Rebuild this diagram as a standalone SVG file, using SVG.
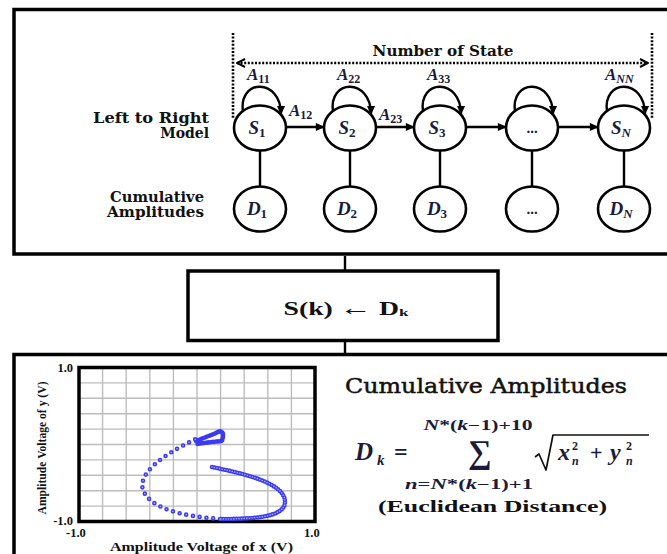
<svg xmlns="http://www.w3.org/2000/svg" width="667" height="554" viewBox="0 0 667 554">
<defs>
<style>
.frame{fill:none;stroke:#000;stroke-width:3.5}
.node{fill:#fff;stroke:#000;stroke-width:2.6}
.lbl{font-family:"DejaVu Serif","Liberation Serif",serif;font-weight:bold;fill:#111}
.var{font-family:"Liberation Serif","DejaVu Serif",serif;font-weight:bold;font-style:italic;fill:#1a1a3a}
.up{font-style:normal}
.conn{fill:none;stroke:#000;stroke-width:2.4}
.dotted{fill:none;stroke:#000;stroke-width:2.6;stroke-dasharray:2 1.6}
.grid{fill:none;stroke:#bdbdbd;stroke-width:1.4}
.tick{font-family:"Liberation Serif",serif;font-weight:bold;fill:#111}
.ptsO{fill:none;stroke:#3a3af5;stroke-width:4.6;stroke-linecap:round}
.ptsI{fill:none;stroke:#b4b4ff;stroke-width:1.6;stroke-linecap:round}
</style>
<marker id="ah" markerUnits="userSpaceOnUse" viewBox="0 0 10 10" refX="9" refY="5" markerWidth="10" markerHeight="9" orient="auto"><path d="M0,0.5 L10,5 L0,9.5 z" fill="#000"/></marker>
<marker id="open" markerUnits="userSpaceOnUse" viewBox="0 0 10 10" refX="9" refY="5" markerWidth="10" markerHeight="10" orient="auto-start-reverse"><path d="M1,1 L9,5 L1,9" fill="none" stroke="#000" stroke-width="2"/></marker>
</defs>
<rect width="667" height="554" fill="#fff"/>

<g id="frames">
<rect id="top-panel" class="frame" x="14" y="9.5" width="680" height="244.5"/>
<rect id="bottom-panel" class="frame" x="14" y="354.5" width="680" height="220"/>
</g>

<g id="connectors">
<line class="conn" x1="345" y1="256" x2="345" y2="270" stroke-width="3"/>
<line class="conn" x1="345" y1="341" x2="345" y2="353" stroke-width="3"/>
<line class="dotted" x1="233" y1="33" x2="233" y2="118"/>
<line class="dotted" x1="652" y1="33" x2="652" y2="118"/>
<line class="dotted" x1="237" y1="63" x2="648" y2="63" marker-start="url(#open)" marker-end="url(#open)"/>
<path class="conn" d="M243,112 C238,78 281,78 281,114" marker-end="url(#ah)"/>
<path class="conn" d="M333,112 C328,78 371,78 371,114" marker-end="url(#ah)"/>
<path class="conn" d="M423,112 C418,78 461,78 461,114" marker-end="url(#ah)"/>
<path class="conn" d="M515,112 C510,78 553,78 553,114" marker-end="url(#ah)"/>
<path class="conn" d="M607,112 C602,78 645,78 645,114" marker-end="url(#ah)"/>
<line class="conn" x1="286" y1="127" x2="324" y2="127" marker-end="url(#ah)"/>
<line class="conn" x1="376" y1="127" x2="414" y2="127" marker-end="url(#ah)"/>
<line class="conn" x1="466" y1="127" x2="506" y2="127" marker-end="url(#ah)"/>
<line class="conn" x1="558" y1="127" x2="598" y2="127" marker-end="url(#ah)"/>
<line class="conn" x1="260" y1="150" x2="260" y2="187"/>
<line class="conn" x1="350" y1="150" x2="350" y2="187"/>
<line class="conn" x1="440" y1="150" x2="440" y2="187"/>
<line class="conn" x1="532" y1="150" x2="532" y2="187"/>
<line class="conn" x1="624" y1="150" x2="624" y2="187"/>
</g>

<g id="labels">
<text class="lbl" x="443" y="56" font-size="14" text-anchor="middle" textLength="141" lengthAdjust="spacingAndGlyphs">Number of State</text>
<text class="lbl" x="209" y="123" font-size="14" text-anchor="end" textLength="116" lengthAdjust="spacingAndGlyphs">Left to Right</text>
<text class="lbl" x="209" y="138" font-size="14" text-anchor="end">Model</text>
<text class="lbl" x="204" y="202" font-size="14" text-anchor="end" textLength="94" lengthAdjust="spacingAndGlyphs">Cumulative</text>
<text class="lbl" x="204" y="217" font-size="14" text-anchor="end" textLength="97" lengthAdjust="spacingAndGlyphs">Amplitudes</text>
<text class="var" x="247" y="80" font-size="17">A<tspan class="up" font-size="12" dy="3">11</tspan></text>
<text class="var" x="337" y="80" font-size="17">A<tspan class="up" font-size="12" dy="3">22</tspan></text>
<text class="var" x="427" y="80" font-size="17">A<tspan class="up" font-size="12" dy="3">33</tspan></text>
<text class="var" x="605" y="80" font-size="17">A<tspan font-size="12" dy="3">NN</tspan></text>
<text class="var" x="289" y="116" font-size="17">A<tspan class="up" font-size="12" dy="3">12</tspan></text>
<text class="var" x="379" y="120" font-size="17">A<tspan class="up" font-size="12" dy="3">23</tspan></text>
</g>

<g id="S1"><ellipse class="node" cx="260" cy="128" rx="26" ry="22.5"/><text class="var" x="257" y="134" text-anchor="middle" font-size="19">S<tspan class="up" font-size="13" dy="3">1</tspan></text></g>
<g id="S2"><ellipse class="node" cx="350" cy="128" rx="26" ry="22.5"/><text class="var" x="347" y="134" text-anchor="middle" font-size="19">S<tspan class="up" font-size="13" dy="3">2</tspan></text></g>
<g id="S3"><ellipse class="node" cx="440" cy="128" rx="26" ry="22.5"/><text class="var" x="437" y="134" text-anchor="middle" font-size="19">S<tspan class="up" font-size="13" dy="3">3</tspan></text></g>
<g id="S4"><ellipse class="node" cx="532" cy="128" rx="26" ry="22.5"/><text class="var up" x="532" y="133" text-anchor="middle" font-size="15">...</text></g>
<g id="SN"><ellipse class="node" cx="624" cy="128" rx="26" ry="22.5"/><text class="var" x="621" y="134" text-anchor="middle" font-size="19">S<tspan font-size="13" dy="3">N</tspan></text></g>

<g id="D1"><ellipse class="node" cx="260" cy="209" rx="26" ry="22.5"/><text class="var" x="257" y="215" text-anchor="middle" font-size="19">D<tspan class="up" font-size="13" dy="3">1</tspan></text></g>
<g id="D2"><ellipse class="node" cx="350" cy="209" rx="26" ry="22.5"/><text class="var" x="347" y="215" text-anchor="middle" font-size="19">D<tspan class="up" font-size="13" dy="3">2</tspan></text></g>
<g id="D3"><ellipse class="node" cx="440" cy="209" rx="26" ry="22.5"/><text class="var" x="437" y="215" text-anchor="middle" font-size="19">D<tspan class="up" font-size="13" dy="3">3</tspan></text></g>
<g id="D4"><ellipse class="node" cx="532" cy="209" rx="26" ry="22.5"/><text class="var up" x="532" y="214" text-anchor="middle" font-size="15">...</text></g>
<g id="DN"><ellipse class="node" cx="624" cy="209" rx="26" ry="22.5"/><text class="var" x="621" y="215" text-anchor="middle" font-size="19">D<tspan font-size="13" dy="3">N</tspan></text></g>

<g id="assign">
<rect class="frame" x="188" y="271" width="310" height="69.5" fill="#fff"/>
<text x="346" y="315" text-anchor="middle" font-family="'Liberation Serif',serif" font-weight="bold" font-size="18" fill="#111" textLength="125" lengthAdjust="spacingAndGlyphs">S(k) <tspan font-size="21">←</tspan> D<tspan font-size="11" dy="1">k</tspan></text>
</g>

<g id="plot">
<rect x="79" y="367.5" width="236" height="154" fill="#fff"/>
<path class="grid" d="M102.6,367.5V521.5M126.2,367.5V521.5M149.8,367.5V521.5M173.4,367.5V521.5M197,367.5V521.5M220.6,367.5V521.5M244.2,367.5V521.5M267.8,367.5V521.5M291.4,367.5V521.5M79,382.9H315M79,398.3H315M79,413.7H315M79,429.1H315M79,444.5H315M79,459.9H315M79,475.3H315M79,490.7H315M79,506.1H315"/>
<rect class="frame" x="79" y="367.5" width="236" height="154"/>
<path class="ptsO" stroke-dasharray="0 6.8" d="M220,519 C180,516 150,508 143,490 C138,474 160,456 198,438"/>
<path class="ptsO" stroke-dasharray="0 2.6" d="M212,467 C240,473 285,482 285,502 C285,518 250,519 220,519"/>
<path class="ptsO" stroke-dasharray="0 1.6" stroke-width="4.8" d="M196,441 L206,437 L214,434 L220,431 L223,433 L223,437 L222,441 L212,442 L204,443 L197,444"/>
<path class="ptsI" stroke-dasharray="0 6.8" d="M220,519 C180,516 150,508 143,490 C138,474 160,456 198,438"/>
<path class="ptsI" stroke-dasharray="0 2.6" d="M212,467 C240,473 285,482 285,502 C285,518 250,519 220,519"/>
<text class="tick" x="73" y="372" font-size="12.5" text-anchor="end">1.0</text>
<text class="tick" x="73" y="525" font-size="12.5" text-anchor="end">-1.0</text>
<text class="tick" x="66" y="537" font-size="12.5">-1.0</text>
<text class="tick" x="304" y="537" font-size="12.5">1.0</text>
<text class="tick" x="201.5" y="551" text-anchor="middle" font-size="13" textLength="183" lengthAdjust="spacingAndGlyphs">Amplitude Voltage of x (V)</text>
<text class="tick" transform="translate(46,448) rotate(-90)" text-anchor="middle" font-weight="normal" font-size="13" textLength="133" lengthAdjust="spacingAndGlyphs">Amplitude Voltage of y (V)</text>
</g>

<g id="formula">
<text x="345" y="393" font-family="'DejaVu Serif','Liberation Serif',serif" font-size="21" fill="#111" stroke="#111" stroke-width="0.5" textLength="282" lengthAdjust="spacingAndGlyphs">Cumulative Amplitudes</text>
<text class="var" x="355" y="460" font-size="25">D</text>
<text class="var" x="377" y="465" font-size="15">k</text>
<text class="var up" x="394" y="460" font-size="24">=</text>
<text class="var up" x="480" y="463" font-size="33" text-anchor="middle">∑</text>
<text class="var" x="478" y="430" font-size="14" text-anchor="middle" textLength="109" lengthAdjust="spacingAndGlyphs">N<tspan class="up">*(</tspan>k<tspan class="up">−1)+10</tspan></text>
<text class="var" x="469" y="489" font-size="14" text-anchor="middle" textLength="128" lengthAdjust="spacingAndGlyphs">n<tspan class="up">=</tspan>N<tspan class="up">*(</tspan>k<tspan class="up">−1)+1</tspan></text>
<polyline points="535,457 539,454 546,470 553,435 649,435" fill="none" stroke="#111" stroke-width="1.7" stroke-linejoin="round"/>
<text class="var" x="558" y="460" font-size="24">x</text>
<text class="var up" x="572" y="450" font-size="12">2</text>
<text class="var" x="572" y="465" font-size="12">n</text>
<text class="var up" x="590" y="460" font-size="22">+</text>
<text class="var" x="610" y="460" font-size="24">y</text>
<text class="var up" x="626" y="450" font-size="12">2</text>
<text class="var" x="626" y="465" font-size="12">n</text>
<text x="378" y="512" font-family="'Liberation Serif',serif" font-weight="bold" font-size="17" fill="#111" textLength="229" lengthAdjust="spacingAndGlyphs">(Euclidean Distance)</text>
</g>
</svg>
